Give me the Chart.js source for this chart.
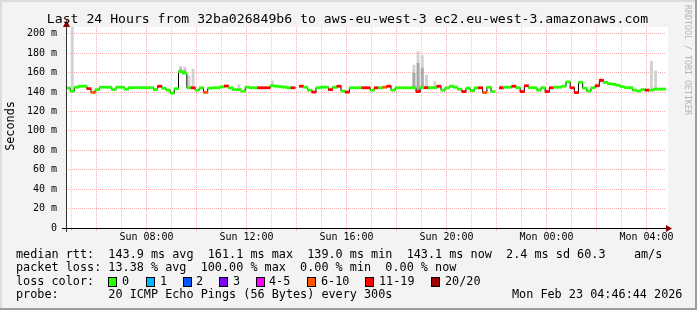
<!DOCTYPE html>
<html>
<head>
<meta charset="utf-8">
<script src="https://cdn.jsdelivr.net/npm/chart.js@4.4.1/dist/chart.umd.min.js"></script>
<style>
  body { margin: 0; width: 697px; height: 310px; overflow: hidden; background: #f3f3f3; position: relative;
         font-family: 'DejaVu Sans Mono', monospace; color: #000; }
  canvas { position: absolute; left: 0; top: 0; }
  .t { position: absolute; white-space: pre; font-size: 11.8px; line-height: 13.5px; }
  .box { position: absolute; width: 7px; height: 8px; border: 1px solid #000; }
  #title { position: absolute; left: -1px; top: 12px; width: 697px; text-align: center; font-size: 13.15px; line-height: 14px; white-space: pre; }
  #ylab { position: absolute; left: -20px; top: 119px; width: 60px; height: 14px; text-align: center;
          font-size: 11.8px; line-height: 14px; transform: rotate(-90deg); }
  #credit { position: absolute; left: 683px; top: 5px; writing-mode: vertical-rl; font-size: 8.3px; color: #b4b4b4; white-space: pre; }
</style>
</head>
<body>
<canvas id="c" width="697" height="310"></canvas>
<div id="title">Last 24 Hours from 32ba026849b6 to aws-eu-west-3 ec2.eu-west-3.amazonaws.com</div>
<div id="ylab">Seconds</div>
<div id="credit">RRDTOOL / TOBI OETIKER</div>
<div class="t" style="left:16px; top:247.5px">median rtt:  143.9 ms avg  161.1 ms max  139.0 ms min  143.1 ms now  2.4 ms sd 60.3    am/s</div>
<div class="t" style="left:16px; top:261px">packet loss: 13.38 % avg  100.00 % max  0.00 % min  0.00 % now</div>
<div class="t" style="left:16px; top:274.5px">loss color:</div>
<div id="lossLegend"></div>
<div class="t" style="left:16px; top:288px">probe:       20 ICMP Echo Pings (56 Bytes) every 300s</div>
<div class="t" style="left:512px; top:288px">Mon Feb 23 04:46:44 2026</div>
<script>
// time axis in minutes since Sun 00:00, window ends Mon 04:46:44
const startMin = 4 * 60 + 46 + 44 / 60;
const stepMin = 10;

// median rtt (ms), one value per 10 minutes; null = 20/20 lost
const median = [
  144.2, 141, 145, 146, 146, 143.5, 139.7, 142.5, 145, 145, 145, 142.5,
  145, 145, 143, 144.5, 144.5, 144.5, 144.5, 144.5, 144.5, 142.5, 146, 144,
  142, 139.0, 143.5, 161.1, 159.5, 144.5, 144.4, 142, 144.4, 139.7, 144, 144.4,
  144.4, 145.5, 146.2, 144.4, 142.5, 142.5, 140.8, 145, 144.4, 144.4, 144.4, 144.4,
  144.4, 146.5, 146, 145.5, 145, 144.4, 144.4, null, 146, 145, 142, 140,
  144.5, 145, 145, 142.5, 145, 146, 141, 140, 144.4, 144.4, 144.4, 144.4,
  144.4, 142, 144.4, 144.4, 145, 146, 142, 144.4, 144.4, 144.4, 144.4, 144.4,
  140.5, 144.5, 144.5, 144.5, 144.5, 146, 142, 144.4, 146, 145, 143, 140.5,
  144, 141.5, 144.4, 144.4, 139.5, 145, 140.5, null, 144.4, 145, 145, 146,
  144.5, 140.5, 146.5, 144.5, 144.5, 142, 144.5, 140.5, 144.4, 145, 145, 146,
  150.5, 144.4, 139.5, 150, 144, 141, 144.4, 146.5, 152, 150, 148.5, 148,
  147, 145.5, 144.5, 144.5, 142, 141, 142.5, 142, 142, 143, 143, 143.1
];

// pings lost out of 20 for each step
const lost = [
  0, 0, 0, 0, 0, 12, 8, 0, 0, 0, 0, 0,
  0, 0, 0, 0, 0, 0, 0, 0, 0, 0, 12, 0,
  0, 0, 0, 0, 0, 0, 12, 0, 0, 8, 0, 0,
  0, 0, 12, 0, 0, 0, 0, 0, 0, 0, 12, 12,
  12, 0, 0, 0, 0, 0, 12, 20, 12, 0, 0, 12,
  0, 0, 0, 12, 0, 12, 0, 12, 0, 0, 0, 12,
  12, 0, 12, 0, 8, 12, 0, 0, 0, 0, 0, 0,
  12, 0, 12, 0, 0, 12, 0, 0, 0, 0, 0, 12,
  0, 0, 0, 12, 8, 0, 0, 20, 12, 0, 0, 12,
  0, 12, 12, 0, 0, 0, 0, 12, 12, 0, 0, 0,
  0, 12, 12, 0, 0, 0, 0, 12, 14, 0, 0, 0,
  0, 0, 0, 0, 0, 0, 0, 12, 0, 0, 0, 0
];

// smoke (spread of the 20 pings): step index, outer top, darker core top
const smokeIdx  = [1, 27, 28, 29, 30, 41, 49, 83, 84, 85, 86, 88, 104, 128, 140, 141];
const smokeTop  = [215, 167, 166, 157, 164, 148, 152, 168, 182, 178, 158, 151, 147, 155, 172, 162];
const smokeCore = [null, 164, 163, null, null, null, null, 160, 170, 165, null, null, null, 150, null, null];

const lossLabels = ['0', '1', '2', '3', '4-5', '6-10', '11-19', '20/20'];
const lossColors = ['#26ff00', '#00b8ff', '#0059ff', '#7e00ff', '#ff00ff', '#ff5500', '#ff0000', '#a10000'];
const lossBoxX   = [108, 146, 183, 219, 256, 307, 365, 431];
const lossTextX  = [122, 160, 196, 233, 269, 321, 379, 445];

const xLabelMin = [480, 720, 960, 1200, 1440, 1680];
const xLabels   = ['Sun 08:00', 'Sun 12:00', 'Sun 16:00', 'Sun 20:00', 'Mon 00:00', 'Mon 04:00'];

function bucket(n) {
  if (n <= 3) return n;
  if (n <= 5) return 4;
  if (n <= 10) return 5;
  if (n <= 19) return 6;
  return 7;
}

// loss colour legend
const lg = document.getElementById('lossLegend');
lossLabels.forEach((l, i) => {
  const b = document.createElement('div');
  b.className = 'box';
  b.style.left = lossBoxX[i] + 'px';
  b.style.top = '277px';
  b.style.background = lossColors[i];
  lg.appendChild(b);
  const t = document.createElement('div');
  t.className = 't';
  t.style.left = lossTextX[i] + 'px';
  t.style.top = '274.5px';
  t.textContent = l;
  lg.appendChild(t);
});

const xs = median.map((_, i) => startMin + stepMin / 2 + i * stepMin);
const medianBars = [];
median.forEach((v, i) => { if (v != null) medianBars.push({ x: xs[i], y: [v - 1.1, v + 1.1], loss: lost[i] }); });
const smokeOuter = smokeIdx.map((k, j) => ({ x: xs[k], y: [median[k] - 1, smokeTop[j]] }));
const smokeInner = [];
smokeIdx.forEach((k, j) => { if (smokeCore[j] != null) smokeInner.push({ x: xs[k], y: [median[k] - 1, smokeCore[j]] }); });

const frame = {
  id: 'frame',
  beforeDraw(chart) {
    const { ctx, chartArea: a } = chart;
    ctx.save();
    ctx.fillStyle = '#f3f3f3';
    ctx.fillRect(0, 0, 697, 310);
    ctx.fillStyle = '#ffffff';
    ctx.fillRect(a.left, a.top, a.right - a.left + 2, a.bottom - a.top);
    ctx.restore();
  },
  afterDraw(chart) {
    const { ctx, chartArea: a } = chart;
    ctx.save();
    ctx.fillStyle = '#000';
    ctx.fillRect(62, a.bottom, a.right - 62 + 2, 1);
    ctx.fillStyle = '#333';
    ctx.fillRect(a.left, a.top - 3, 1, a.bottom - a.top + 7);
    ctx.fillStyle = '#8b0000';
    ctx.beginPath();
    ctx.moveTo(a.right + 6, a.bottom + 0.5);
    ctx.lineTo(a.right, a.bottom - 3);
    ctx.lineTo(a.right, a.bottom + 4);
    ctx.fill();
    ctx.beginPath();
    ctx.moveTo(a.left + 0.5, a.top - 7);
    ctx.lineTo(a.left - 3, a.top);
    ctx.lineTo(a.left + 4, a.top);
    ctx.fill();
    // outer frame
    ctx.fillStyle = '#dcdcdc';
    ctx.fillRect(0, 0, 697, 2);
    ctx.fillRect(0, 0, 2, 310);
    ctx.fillStyle = '#9c9c9c';
    ctx.fillRect(0, 308, 697, 2);
    ctx.fillRect(695, 0, 2, 310);
    ctx.restore();
  }
};

const tickFont = { family: 'DejaVu Sans Mono', size: 10 };

new Chart(document.getElementById('c'), {
  data: {
    datasets: [
      { type: 'bar', order: 0, grouped: false, data: medianBars,
        backgroundColor: c => lossColors[bucket(c.raw ? c.raw.loss : 0)],
        barPercentage: 1, categoryPercentage: 1, borderWidth: 0 },
      { type: 'line', order: 1, data: median.map((v, i) => ({ x: xs[i], y: v })),
        stepped: 'middle', borderColor: '#000', borderWidth: 1, pointRadius: 0, spanGaps: false },
      { type: 'bar', order: 2, grouped: false, data: smokeInner, backgroundColor: '#a8a8a8',
        barPercentage: 0.7, categoryPercentage: 1, borderWidth: 0 },
      { type: 'bar', order: 3, grouped: false, data: smokeOuter, backgroundColor: '#d2d2d2',
        barPercentage: 0.7, categoryPercentage: 1, borderWidth: 0 }
    ]
  },
  options: {
    responsive: false,
    animation: false,
    devicePixelRatio: 1,
    layout: { padding: { left: 0, top: 27, right: 31, bottom: 62 } },
    plugins: { legend: { display: false }, tooltip: { enabled: false } },
    scales: {
      x: {
        type: 'linear', min: startMin, max: startMin + 1440, offset: false,
        afterFit: s => { s.height = 20; },
        afterBuildTicks: s => {
          const t = [];
          for (let m = 300; m <= 1680; m += 60) t.push({ value: m });
          s.ticks = t;
        },
        grid: { offset: false, color: c => (c.tick && c.tick.value % 120 === 0) ? '#f6b0b0' : '#d2d2d2', tickLength: 3 },
        border: { display: false, dash: [1, 1] },
        ticks: {
          autoSkip: false, maxRotation: 0, padding: 0, color: '#000', font: tickFont,
          callback: v => { const k = xLabelMin.indexOf(v); return k < 0 ? '' : xLabels[k]; }
        }
      },
      y: {
        min: 0, max: 207,
        afterFit: s => { s.width = 66; },
        afterBuildTicks: s => {
          const t = [];
          for (let v = 0; v <= 200; v += 10) t.push({ value: v });
          s.ticks = t;
        },
        grid: { color: c => (c.tick && c.tick.value % 20 === 0) ? '#f6b0b0' : '#d2d2d2', drawTicks: false },
        border: { display: false, dash: [1, 1] },
        ticks: {
          padding: 9, color: '#000', font: tickFont,
          callback: v => v % 20 ? '' : (v ? v + ' m' : '0')
        }
      }
    }
  },
  plugins: [frame]
});
</script>
</body>
</html>
